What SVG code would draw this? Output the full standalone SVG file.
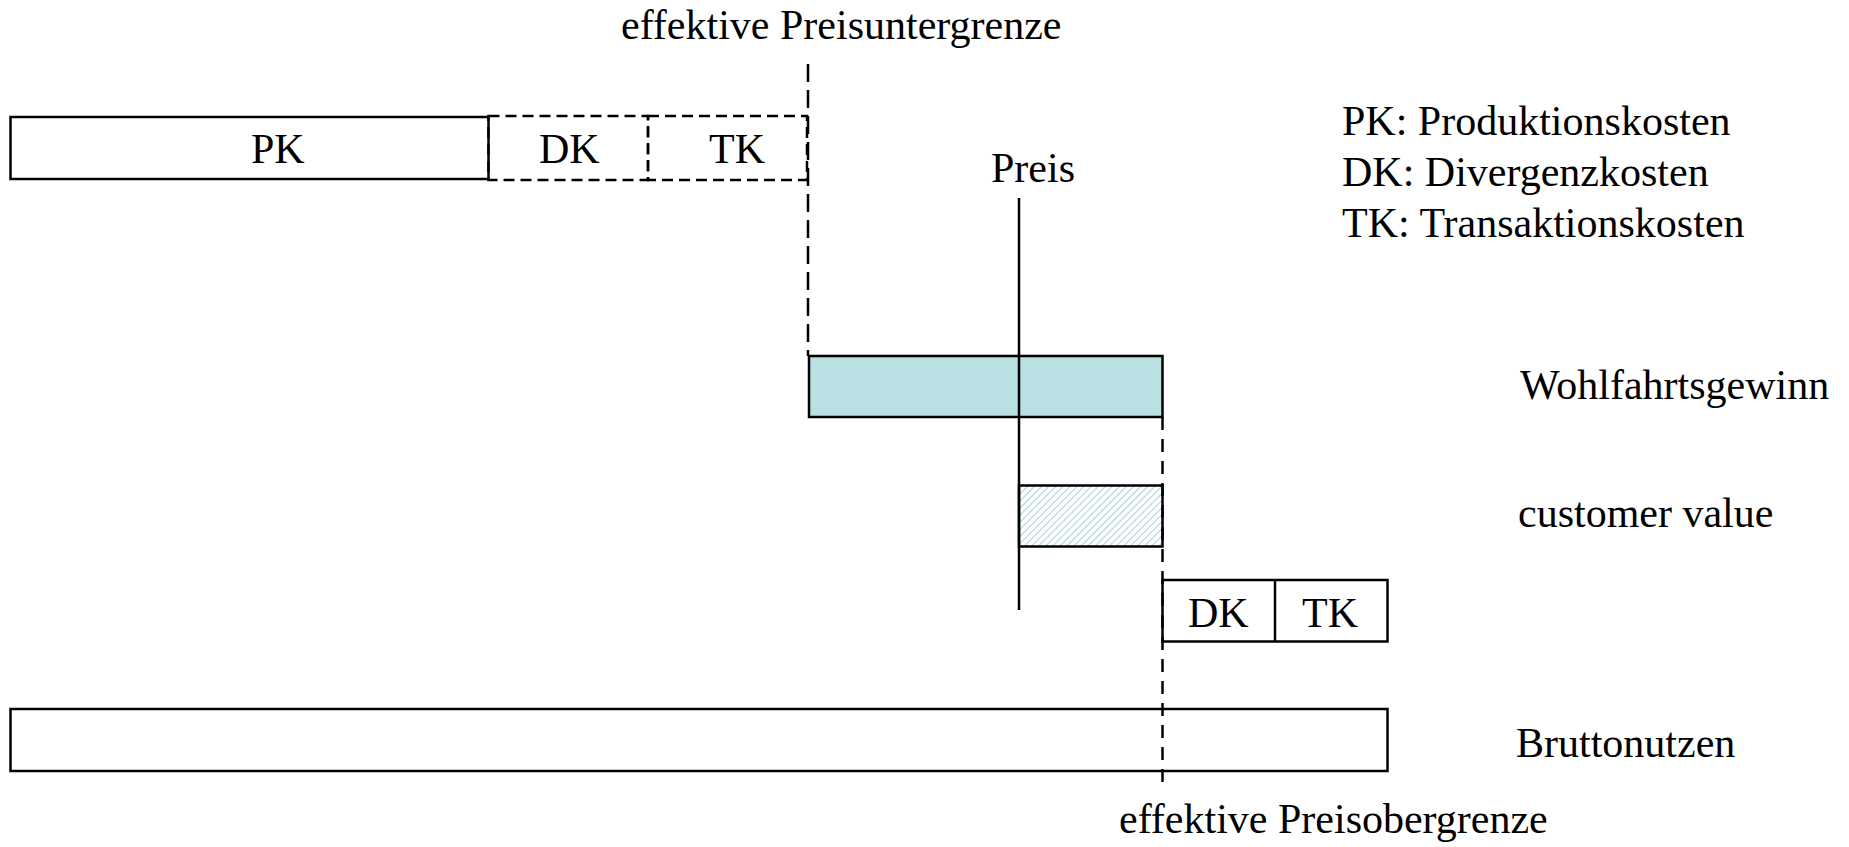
<svg xmlns="http://www.w3.org/2000/svg" width="1849" height="847" viewBox="0 0 1849 847">
<style>
text{font-family:"Liberation Serif","Times New Roman",serif;font-size:42px;fill:#000}
.box{fill:#fff;stroke:#000;stroke-width:2.5}
.dbox{fill:none;stroke:#000;stroke-width:2.5;stroke-dasharray:11 6}
.solid{stroke:#000;stroke-width:2.5;fill:none}
.dash1{stroke:#000;stroke-width:2.5;fill:none;stroke-dasharray:18 8}
.dash2{stroke:#000;stroke-width:2.5;fill:none;stroke-dasharray:13 9}
</style>
<defs>
<pattern id="hatch" width="5" height="5" patternUnits="userSpaceOnUse" patternTransform="rotate(45)">
<rect width="5" height="5" fill="#fff"/>
<line x1="0" y1="0" x2="0" y2="5" stroke="#9fd3d8" stroke-width="2"/>
</pattern>
</defs>
<rect width="1849" height="847" fill="#fff"/>
<g id="pk">
<rect class="box" x="10.5" y="117" width="478" height="62"/>
<text x="251" y="163">PK</text>
</g>
<g id="dk-top">
<rect class="dbox" x="488.5" y="116" width="159.5" height="64"/>
<text x="539" y="163">DK</text>
</g>
<g id="tk-top">
<rect class="dbox" x="648" y="116" width="159" height="64"/>
<text x="709" y="163">TK</text>
</g>
<g id="wohlfahrt">
<rect x="809" y="356" width="353.5" height="61" fill="#b9e0e3" stroke="#000" stroke-width="2.5"/>
<text x="1520" y="399">Wohlfahrtsgewinn</text>
</g>
<g id="customer">
<rect x="1019" y="485.5" width="143.5" height="61" fill="url(#hatch)" stroke="#000" stroke-width="2.5"/>
<text x="1518" y="527">customer value</text>
</g>
<g id="dktk-bottom">
<rect class="box" x="1162.5" y="580" width="225" height="61.5"/>
<line class="solid" x1="1275" y1="580" x2="1275" y2="641.5"/>
<text x="1188" y="627">DK</text>
<text x="1302" y="627">TK</text>
</g>
<g id="brutto">
<rect class="box" x="10.5" y="709" width="1377" height="62"/>
<text x="1516" y="757">Bruttonutzen</text>
</g>
<g id="legend">
<text x="1342" y="135">PK: Produktionskosten</text>
<text x="1342" y="186">DK: Divergenzkosten</text>
<text x="1342" y="237">TK: Transaktionskosten</text>
</g>
<g id="labels">
<text x="621" y="39">effektive Preisuntergrenze</text>
<text x="991" y="182">Preis</text>
<text x="1119" y="833">effektive Preisobergrenze</text>
</g>
<g id="connectors">
<line class="dash1" x1="808" y1="64" x2="808" y2="356"/>
<line class="solid" x1="1019" y1="198" x2="1019" y2="610"/>
<line class="dash2" x1="1162.5" y1="417" x2="1162.5" y2="787"/>
</g>
</svg>
